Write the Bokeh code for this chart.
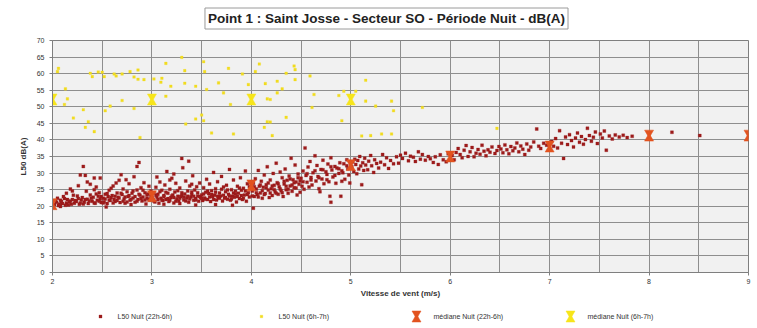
from bokeh.plotting import figure
from bokeh.layouts import column
from bokeh.models import SingleIntervalTicker, FixedTicker, Label
from bokeh.core.properties import value
from bokeh.embed import file_html
from bokeh.resources import INLINE

# --- L50 night (22h-6h): wind speed (m/s) / level dB(A)
red_wind = [
    2.02, 2.04, 2.06, 2.08, 2.10, 2.12, 2.14, 2.16, 2.18, 2.20, 2.22, 2.24, 2.25, 2.27, 2.29,
    2.30, 2.31, 2.32, 2.34, 2.35, 2.36, 2.38, 2.40, 2.41, 2.43, 2.44, 2.45, 2.46, 2.48, 2.49,
    2.14, 2.20, 2.26, 2.35, 2.42, 2.28, 2.08, 2.47, 2.33, 2.48, 2.42,
    2.03, 2.05, 2.07, 2.09, 2.11, 2.13, 2.15, 2.17, 2.19, 2.21, 2.23, 2.26, 2.28, 2.31, 2.33,
    2.37, 2.39, 2.42, 2.44, 2.47, 2.49, 2.18, 2.38,
    2.51, 2.52, 2.53, 2.55, 2.56, 2.57, 2.58, 2.60, 2.61, 2.62, 2.63, 2.65, 2.66, 2.67, 2.68,
    2.70, 2.71, 2.72, 2.73, 2.75, 2.76, 2.77, 2.78, 2.80, 2.81, 2.82, 2.83, 2.85, 2.85, 2.86,
    2.87, 2.88, 2.89, 2.90, 2.91, 2.92, 2.93, 2.94, 2.95, 2.96, 2.97, 2.98, 2.99, 2.59, 2.69,
    2.79, 2.54,
    2.51, 2.53, 2.55, 2.57, 2.59, 2.61, 2.63, 2.65, 2.67, 2.69, 2.71, 2.73, 2.75, 2.77, 2.79,
    2.81, 2.83, 2.85, 2.87, 2.89, 2.91, 2.93, 2.95, 2.97, 2.99, 2.64, 2.74,
    3.01, 3.02, 3.03, 3.04, 3.05, 3.06, 3.07, 3.08, 3.09, 3.10, 3.11, 3.12, 3.13, 3.14, 3.15,
    3.16, 3.17, 3.18, 3.19, 3.20, 3.21, 3.22, 3.23, 3.24, 3.25, 3.26, 3.27, 3.28, 3.29, 3.30,
    3.31, 3.32, 3.33, 3.34, 3.35, 3.36, 3.37, 3.38, 3.39, 3.40, 3.41, 3.42, 3.43, 3.44, 3.45,
    3.46, 3.47, 3.48, 3.49, 3.05, 3.22, 3.37, 3.12, 3.28, 3.44, 3.30,
    3.00, 3.02, 3.04, 3.06, 3.08, 3.10, 3.12, 3.14, 3.16, 3.18, 3.20, 3.22, 3.24, 3.26, 3.28,
    3.30, 3.32, 3.34, 3.36, 3.38, 3.40, 3.42, 3.44, 3.46, 3.48, 3.18, 3.40,
    3.50, 3.51, 3.52, 3.53, 3.54, 3.55, 3.56, 3.57, 3.58, 3.59, 3.60, 3.61, 3.62, 3.63, 3.64,
    3.65, 3.66, 3.67, 3.68, 3.69, 3.70, 3.71, 3.72, 3.73, 3.74, 3.75, 3.76, 3.77, 3.78, 3.79,
    3.80, 3.81, 3.82, 3.83, 3.84, 3.85, 3.86, 3.87, 3.88, 3.89, 3.90, 3.91, 3.92, 3.93, 3.94,
    3.95, 3.96, 3.97, 3.98, 3.99, 3.64, 3.81,
    3.50, 3.52, 3.54, 3.56, 3.58, 3.60, 3.62, 3.64, 3.66, 3.68, 3.70, 3.72, 3.74, 3.76, 3.78,
    3.80, 3.82, 3.84, 3.86, 3.88, 3.90, 3.92, 3.94, 3.96, 3.98,
    4.01, 4.02, 4.03, 4.04, 4.05, 4.06, 4.07, 4.08, 4.09, 4.10, 4.11, 4.12, 4.13, 4.14, 4.15,
    4.16, 4.17, 4.18, 4.19, 4.20, 4.21, 4.22, 4.23, 4.24, 4.25, 4.26, 4.27, 4.28, 4.29, 4.30,
    4.31, 4.32, 4.33, 4.34, 4.35, 4.36, 4.37, 4.38, 4.39, 4.40, 4.41, 4.42, 4.43, 4.44, 4.45,
    4.46, 4.47, 4.48, 4.49, 4.02,
    4.01, 4.03, 4.05, 4.07, 4.09, 4.11, 4.13, 4.15, 4.17, 4.19, 4.21, 4.23, 4.25, 4.27, 4.29,
    4.31, 4.33, 4.35, 4.37, 4.39, 4.41, 4.43, 4.45, 4.47, 4.49,
    4.50, 4.51, 4.52, 4.53, 4.54, 4.55, 4.56, 4.57, 4.58, 4.59, 4.60, 4.61, 4.62, 4.64, 4.65,
    4.66, 4.67, 4.68, 4.70, 4.71, 4.72, 4.73, 4.75, 4.76, 4.77, 4.78, 4.80, 4.81, 4.82, 4.84,
    4.85, 4.86, 4.88, 4.89, 4.90, 4.91, 4.93, 4.94, 4.96, 4.97, 4.98, 4.80, 4.69, 4.79, 4.91,
    4.52, 4.56, 4.60, 4.64, 4.68, 4.72, 4.76, 4.80, 4.84, 4.88, 4.92, 4.96,
    5.01, 5.02, 5.03, 5.04, 5.05, 5.06, 5.07, 5.08, 5.09, 5.10, 5.11, 5.12, 5.13, 5.14, 5.15,
    5.17, 5.18, 5.20, 5.21, 5.23, 5.24, 5.26, 5.28, 5.30, 5.32, 5.34, 5.36, 5.38, 5.40, 5.43,
    5.46, 5.48, 4.99,
    5.50, 5.52, 5.55, 5.58, 5.60, 5.63, 5.65, 5.68, 5.70, 5.72, 5.75, 5.78, 5.80, 5.83, 5.85,
    5.88, 5.90, 5.93, 5.96, 5.98,
    6.02, 6.04, 6.06, 6.08, 6.10, 6.12, 6.14, 6.16, 6.18, 6.20, 6.22, 6.24, 6.26, 6.28, 6.30,
    6.32, 6.34, 6.36, 6.38, 6.40, 6.42, 6.45, 6.47, 6.49,
    6.51, 6.53, 6.55, 6.57, 6.59, 6.61, 6.63, 6.65, 6.67, 6.69, 6.71, 6.73, 6.75, 6.77, 6.79,
    6.81, 6.84, 6.87, 6.89, 6.91, 6.94, 6.97,
    7.02, 7.04, 7.06, 7.08, 7.10, 7.12, 7.14, 7.16, 7.18, 7.20, 7.22, 7.24, 7.26, 7.28, 7.30,
    7.32, 7.34, 7.36, 7.38, 7.40, 7.42, 7.44, 7.46, 7.48,
    7.51, 7.53, 7.55, 7.57, 7.60, 7.63, 7.66, 7.70, 7.74, 7.78, 7.83,
    8.23, 8.51,
]
red_l50 = [
    20.5, 21.2, 20.2, 21.8, 20.8, 22.3, 21.0, 20.4, 21.6, 22.0, 20.9, 21.4, 23.1, 20.6, 21.9,
    22.6, 32.0, 21.2, 24.5, 22.1, 20.8, 23.4, 21.5, 22.7, 20.9, 25.8, 21.8, 23.0, 22.2, 21.1,
    23.9, 24.6, 26.2, 27.3, 28.5, 29.4, 19.9, 24.1, 29.3, 28.5, 25.0,
    21.7, 22.4, 20.7, 21.4, 22.9, 20.3, 22.0, 21.3, 20.6, 23.3, 21.7, 22.3, 21.0, 20.7, 22.0,
    21.6, 22.4, 21.0, 23.7, 21.5, 22.9, 25.2, 26.6,
    22.4, 21.3, 23.6, 20.8, 22.9, 24.8, 21.7, 23.2, 26.1, 22.0, 21.4, 24.0, 22.7, 27.8, 21.1,
    23.5, 25.2, 22.2, 20.9, 24.4, 22.9, 26.8, 21.8, 23.9, 22.5, 28.9, 21.2, 32.0, 24.9, 22.0,
    33.2, 23.3, 25.6, 21.6, 22.8, 27.1, 24.1, 20.7, 22.4, 23.7, 26.0, 21.9, 24.6, 25.4, 29.5,
    20.5, 19.8,
    21.0, 22.2, 23.8, 21.9, 22.6, 21.0, 23.0, 21.7, 22.5, 23.9, 21.5, 22.8, 21.3, 23.2, 22.1,
    24.6, 22.9, 21.5, 23.6, 22.3, 24.8, 21.9, 23.4, 22.1, 23.0, 27.0, 28.0,
    22.1, 24.0, 21.3, 25.7, 22.8, 23.6, 20.9, 27.3, 22.4, 24.8, 21.7, 23.2, 26.4, 22.0, 30.5,
    23.9, 21.4, 25.1, 22.6, 28.4, 23.4, 21.0, 24.3, 26.9, 22.2, 23.0, 21.6, 25.5, 22.9, 24.1,
    31.6, 21.9, 23.7, 27.6, 22.5, 24.6, 21.2, 26.1, 22.8, 23.5, 29.2, 21.8, 24.9, 22.3, 25.9,
    23.1, 21.5, 27.0, 22.6, 28.8, 29.7, 33.6, 20.6, 20.8, 20.4, 34.4,
    22.7, 21.6, 23.3, 22.0, 24.4, 21.9, 22.9, 24.2, 22.3, 21.8, 23.1, 22.6, 21.5, 24.7, 22.4,
    23.2, 22.7, 21.6, 23.0, 22.2, 24.3, 23.0, 21.9, 24.1, 22.9, 27.9, 26.6,
    23.4, 21.7, 25.6, 22.5, 24.2, 28.1, 22.0, 23.8, 26.7, 21.4, 24.7, 22.9, 30.2, 23.3, 25.3,
    21.9, 27.4, 22.6, 24.0, 23.1, 29.0, 21.6, 25.8, 22.4, 24.4, 26.3, 22.1, 23.6, 31.1, 21.8,
    25.0, 23.0, 27.9, 22.7, 24.5, 21.3, 26.0, 23.9, 22.3, 28.6, 24.8, 22.0, 25.4, 23.4, 30.6,
    21.5, 26.8, 24.1, 22.8, 27.2, 20.5, 20.3,
    22.3, 23.7, 22.1, 24.6, 22.8, 23.5, 22.0, 24.2, 23.0, 22.4, 25.1, 23.3, 22.6, 24.9, 23.1,
    22.2, 24.0, 23.6, 22.9, 25.5, 23.2, 22.4, 24.6, 23.5, 25.9,
    24.6, 26.9, 22.9, 28.3, 25.2, 23.5, 30.8, 26.0, 24.0, 27.5, 22.4, 25.7, 29.4, 23.8, 26.5,
    31.9, 24.9, 22.6, 27.9, 25.3, 23.2, 29.9, 26.3, 24.3, 33.0, 27.1, 23.6, 25.9, 30.3, 24.7,
    28.6, 22.9, 26.7, 31.2, 25.0, 27.8, 23.9, 29.1, 26.1, 34.5, 24.5, 28.0, 25.6, 32.4, 27.3,
    23.4, 29.7, 26.6, 24.2, 19.4,
    23.1, 25.9, 24.1, 22.8, 26.4, 24.7, 23.5, 25.6, 27.0, 24.0, 26.1, 25.0, 23.9, 26.8, 25.2,
    24.1, 27.5, 26.0, 25.1, 28.2, 26.4, 27.1, 25.5, 28.6, 27.6,
    28.4, 26.0, 30.6, 25.1, 37.6, 29.3, 27.2, 31.8, 25.8, 33.5, 28.7, 26.4, 30.1, 35.2, 27.6,
    32.3, 29.0, 25.3, 31.1, 28.2, 33.9, 26.8, 30.4, 29.6, 32.7, 27.4, 34.6, 30.9, 28.8, 32.0,
    26.9, 31.5, 29.9, 33.1, 23.0, 30.7, 32.8, 28.1, 34.0, 31.3, 29.4, 21.2, 24.4, 23.0, 27.5,
    27.4, 29.8, 27.9, 30.7, 28.6, 31.0, 28.0, 31.9, 29.3, 31.3, 30.1, 32.2,
    31.9, 33.4, 30.5, 34.2, 32.6, 29.8, 33.8, 31.2, 35.0, 32.1, 26.5, 33.1, 30.8, 34.5, 32.4,
    31.0, 33.6, 35.3, 32.2, 30.2, 34.0, 32.9, 31.5, 33.3, 35.6, 32.5, 34.6, 31.4, 33.8, 32.8,
    34.9, 33.0, 27.0,
    35.4, 34.4, 36.0, 33.7, 35.1, 34.8, 33.5, 36.4, 34.2, 35.6, 33.9, 35.0, 34.3, 33.2, 34.9,
    32.6, 35.5, 34.0, 33.4, 35.8,
    35.3, 34.0, 36.2, 37.4, 35.6, 34.6, 36.9, 38.3, 35.0, 36.4, 37.7, 34.9, 36.0, 37.1, 35.7,
    38.4, 36.6, 35.2, 37.0, 36.3, 37.9, 35.9, 36.8, 38.0,
    37.3, 36.1, 38.5, 37.0, 35.8, 38.0, 36.7, 37.6, 39.1, 36.4, 38.2, 37.2, 35.6, 38.8, 36.9,
    37.9, 39.4, 43.3, 38.1, 37.4, 39.0, 38.4,
    39.5, 38.1, 40.4, 37.6, 42.8, 39.0, 34.4, 40.9, 38.6, 41.6, 39.8, 37.9, 40.6, 42.1, 39.3,
    41.0, 38.7, 40.1, 43.5, 41.3, 39.6, 40.8, 42.4, 38.9,
    41.8, 40.6, 42.7, 36.9, 41.2, 40.3, 41.5, 40.9, 41.4, 40.7, 41.1,
    42.3, 41.3,
]

# --- L50 night (6h-7h)
yel_wind = [
    2.06, 2.05, 2.13, 2.15, 2.12, 2.21, 2.31, 2.33, 2.36, 2.42, 2.38, 2.40, 2.46, 2.50, 2.52,
    2.53, 2.58, 2.62, 2.64, 2.70, 2.70, 2.78, 2.82, 2.82, 2.86, 2.86, 2.88, 2.92, 3.02, 3.09,
    3.10, 3.14, 3.14, 3.19, 3.30, 3.33, 3.33, 3.34, 3.44, 3.44, 3.50, 3.52, 3.53, 3.55, 3.52,
    3.60, 3.67, 3.72, 3.77, 3.79, 3.82, 3.91, 3.97, 4.04, 4.08, 4.14, 4.16, 4.19, 4.16, 4.19,
    4.13, 4.21, 4.26, 4.26, 4.31, 4.35, 4.35, 4.43, 4.44, 4.44, 4.59, 4.61, 4.63, 4.88, 4.91,
    4.93, 5.05, 5.15, 5.15, 5.25, 5.41, 5.43, 5.11, 5.20, 5.31, 5.41, 5.72, 6.47,
]
yel_l50 = [
    61.6, 60.6, 55.4, 52.4, 50.7, 46.6, 49.1, 43.8, 45.5, 42.5, 60.1, 59.1, 60.5, 60.4, 59.1,
    48.8, 50.2, 59.9, 59.3, 59.9, 51.9, 60.6, 59.0, 49.5, 61.1, 58.3, 40.7, 58.2, 58.4, 57.4,
    58.6, 63.1, 53.2, 56.2, 64.9, 60.9, 57.1, 44.8, 56.2, 46.3, 47.5, 63.6, 60.6, 55.2, 45.8,
    42.1, 57.2, 54.2, 61.6, 50.7, 41.8, 59.9, 56.7, 60.6, 62.9, 57.0, 52.4, 52.2, 45.5, 45.4,
    43.8, 41.3, 57.7, 54.2, 55.4, 60.1, 46.8, 62.3, 61.2, 58.2, 59.3, 49.8, 53.7, 53.4, 45.8,
    54.7, 54.7, 58.0, 51.7, 50.2, 51.7, 48.8, 41.2, 41.3, 41.8, 41.8, 49.8, 43.5,
]

# --- medians per wind-speed class
med_red_wind = [2, 3, 4, 5, 6, 7, 8, 9]
med_red_l50 = [20.6, 23.0, 26.3, 32.4, 35.0, 38.0, 41.3, 41.3]
med_yel_wind = [2, 3, 4, 5]
med_yel_l50 = [52.2, 52.2, 52.2, 52.2]

x_ticks = [2, 3, 4, 5, 6, 7, 8, 9]
y_ticks = list(range(0, 75, 5))

chart_title = "Point 1 : Saint Josse - Secteur SO - Période Nuit - dB(A)"
series_labels = ["L50 Nuit (22h-6h)", "L50 Nuit (6h-7h)",
                 "médiane Nuit (22h-6h)", "médiane Nuit (6h-7h)"]

RED = "#9c1b1b"
YEL = "#f2dc1e"
RED_MED = "#e2531f"
YEL_MED = "#f7e51a"
FONT = "Liberation Sans"

W = 757
TITLE_H = 30
LEG_H = 28
FRAME_L, FRAME_R = 52, 748   # horizontal extent of the plotting frame, px


def strip(height):
    """A blank band sharing the chart's frame width, addressed in pixels."""
    s = figure(width=W, height=height, x_range=(FRAME_L, FRAME_R), y_range=(0, height),
               output_backend="svg", toolbar_location=None, min_border=0,
               border_fill_color="white", background_fill_color="white")
    s.axis.visible = False
    s.grid.visible = False
    s.outline_line_color = None
    return s


# title band
tb = strip(TITLE_H)
tb.add_layout(Label(x=386, y=TITLE_H - 18, text=chart_title,
                    text_font=FONT, text_font_size="13.5px", text_font_style="bold",
                    text_color="#222222", text_align="center", text_baseline="middle",
                    border_line_color="#9a9a9a", background_fill_color="white",
                    padding=3))

# main chart
p = figure(width=W, height=328 - TITLE_H - LEG_H, x_range=(2, 9), y_range=(0, 70),
           output_backend="svg", toolbar_location=None,
           min_border_left=52, min_border_right=9, min_border_top=10, min_border_bottom=24,
           background_fill_color="#f1f1f1", border_fill_color="white")
p.outline_line_color = "#7f7f7f"

p.xaxis.ticker = FixedTicker(ticks=x_ticks)
p.yaxis.ticker = FixedTicker(ticks=y_ticks)
p.xgrid.ticker = SingleIntervalTicker(interval=0.5, num_minor_ticks=0)
for g in (p.xgrid, p.ygrid):
    g.grid_line_color = "#8e8e8e"
    g.grid_line_width = 1

for ax in (p.xaxis, p.yaxis):
    ax.axis_line_color = "#7f7f7f"
    ax.major_tick_line_color = "#7f7f7f"
    ax.major_tick_out = 3
    ax.major_tick_in = 0
    ax.minor_tick_line_color = None
    ax.major_label_text_font = FONT
    ax.major_label_text_font_size = "7px"
    ax.major_label_text_color = "#333333"
    ax.axis_label_text_font = FONT
    ax.axis_label_text_font_size = "8px"
    ax.axis_label_text_font_style = "bold"
    ax.axis_label_text_color = "#333333"
p.xaxis.axis_label = "Vitesse de vent (m/s)"
p.yaxis.axis_label = "L50 dB(A)"
p.xaxis.axis_label_standoff = 2
p.yaxis.axis_label_standoff = 6
p.xaxis.major_label_standoff = 3

red_style = dict(marker="square", size=3.0, fill_color=RED, line_color=RED, line_width=0.3)
yel_style = dict(marker="square", size=2.6, fill_color=YEL, line_color=YEL, line_width=0.3)

p.scatter(red_wind, red_l50, **red_style)
p.scatter(yel_wind, yel_l50, **yel_style)

# hourglass median markers: an inverted triangle stacked on an upright one
HG_SIZE = 9
HG_HALF_PX = 2.9


def hourglass(fig, xs, ys, color, dy):
    fig.scatter(xs, [v + dy for v in ys], marker="inverted_triangle",
                size=HG_SIZE, fill_color=color, line_color=color, line_width=0.5)
    fig.scatter(xs, [v - dy for v in ys], marker="triangle",
                size=HG_SIZE, fill_color=color, line_color=color, line_width=0.5)


db_shift = HG_HALF_PX / (236 / 70.0)   # frame is ~236 px tall for 70 dB
hourglass(p, med_red_wind, med_red_l50, RED_MED, db_shift)
hourglass(p, med_yel_wind, med_yel_l50, YEL_MED, db_shift)

# legend band underneath the chart
lg = strip(LEG_H)
key_x = [100, 261, 416, 570]
key_y = 12
lg.scatter([key_x[0]], [key_y], **red_style)
lg.scatter([key_x[1]], [key_y], **yel_style)
hourglass(lg, [key_x[2]], [key_y], RED_MED, HG_HALF_PX)
hourglass(lg, [key_x[3]], [key_y], YEL_MED, HG_HALF_PX)
lg.text([x + 17 for x in key_x], [key_y] * 4, text=series_labels,
        text_font=value(FONT), text_font_size="7px", text_color="#333333",
        text_baseline="middle", text_align="left")

open("out.html", "w").write(file_html(column(tb, p, lg, spacing=0), INLINE))
